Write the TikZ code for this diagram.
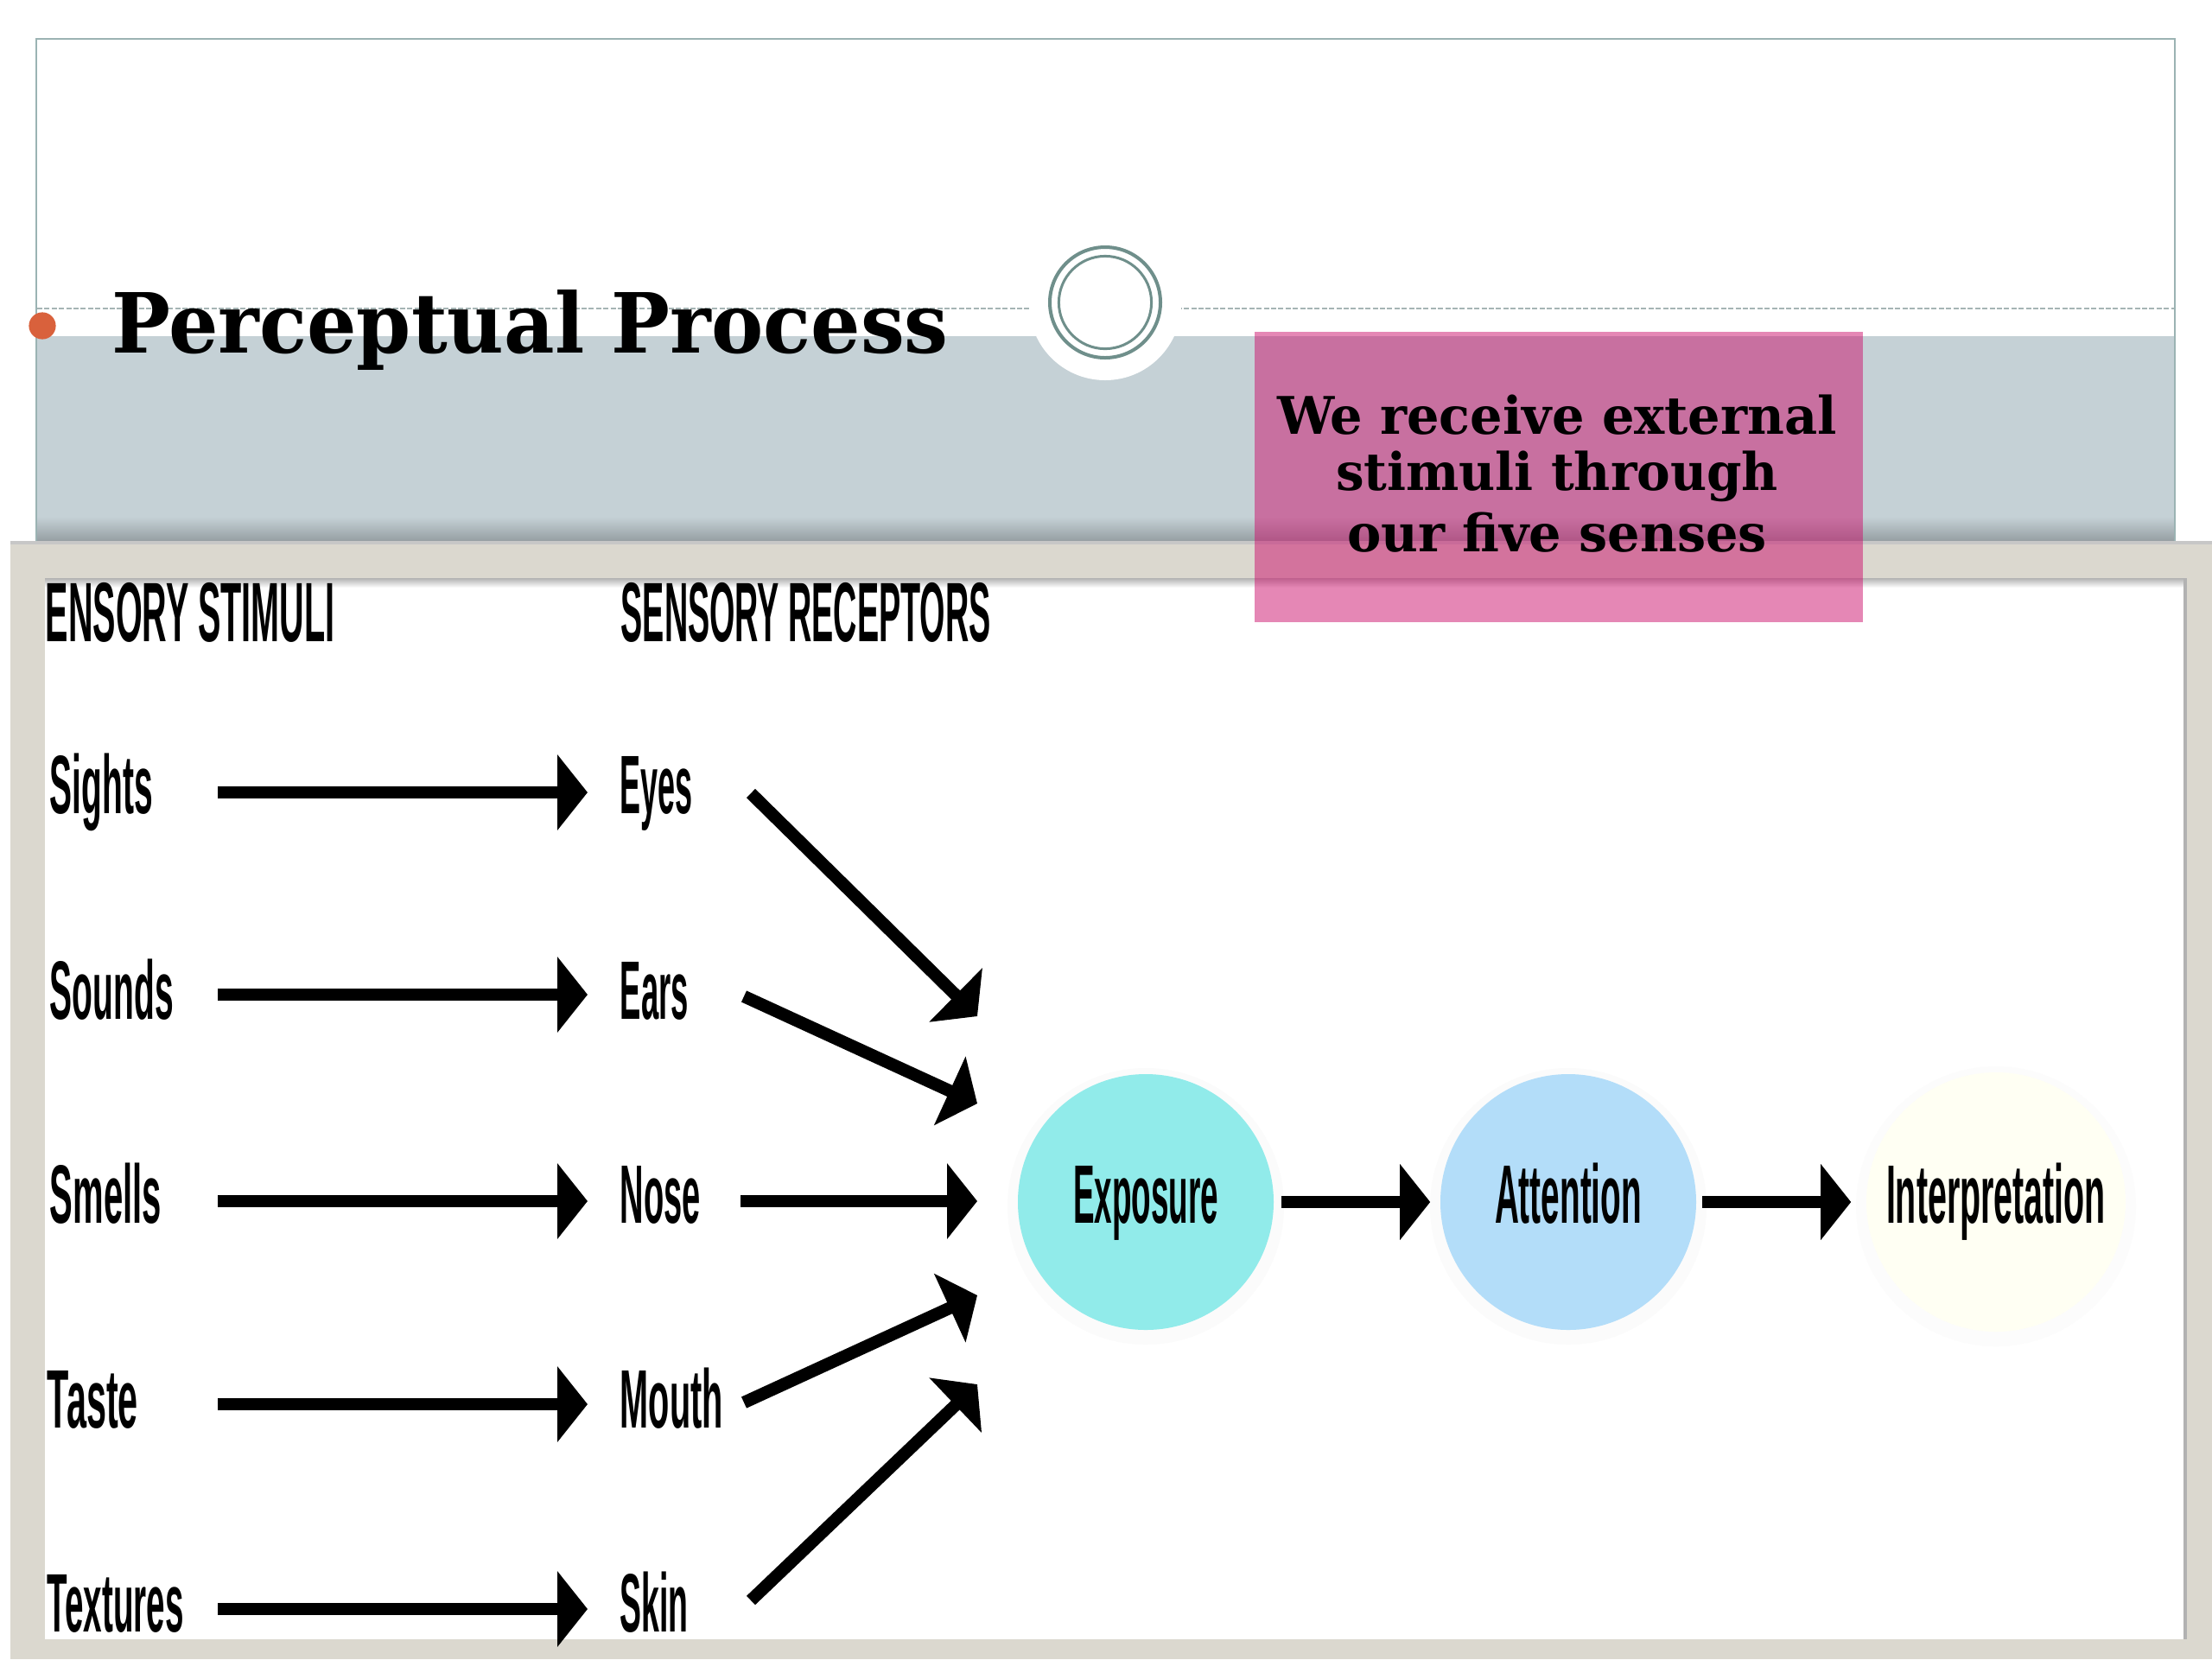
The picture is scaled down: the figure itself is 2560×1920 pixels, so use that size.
\documentclass[tikz,border=0pt]{standalone}
\usepackage{fontspec}
\usepackage{graphicx}
\setmainfont{DejaVu Serif}
\newfontfamily\condfont{Liberation Sans}
\usetikzlibrary{arrows.meta}

\definecolor{bandgray}{RGB}{197,209,214}
\definecolor{framegray}{RGB}{155,179,179}
\definecolor{dashgray}{RGB}{165,180,180}
\definecolor{ringteal}{RGB}{111,143,139}
\definecolor{dotorange}{RGB}{217,97,60}
\definecolor{beige}{RGB}{219,216,207}
\definecolor{pinkfill}{RGB}{204,16,108}
\definecolor{expcyan}{RGB}{145,235,234}
\definecolor{attblue}{RGB}{179,221,249}
\definecolor{intivory}{RGB}{255,255,243}

\newcommand{\fitw}[2]{\resizebox{#1}{\height}{#2}}

\tikzset{
  fat/.style={line width=3.6pt, -{Triangle[length=8.75pt,width=21.5pt]}},
  lbl/.style={inner sep=0pt, anchor=base west, font=\condfont\bfseries\fontsize{24}{28}\selectfont},
  hdr/.style={inner sep=0pt, anchor=base west, font=\condfont\bfseries\fontsize{24.4}{28}\selectfont},
  stage/.style={circle, inner sep=0pt, minimum size=74pt, text height=17.2pt, text depth=5pt,
                font=\condfont\bfseries\fontsize{24}{28}\selectfont},
  pinktext/.style={inner sep=0pt, anchor=base, font=\bfseries\fontsize{15}{18}\selectfont},
}

\begin{document}
\begin{tikzpicture}[x=0.25pt,y=-0.25pt]
\useasboundingbox (0,0) rectangle (2560,1920);
\fill[white] (0,0) rectangle (2560,1920);

% ---- slide header area
\fill[bandgray] (42,389) rectangle (2517,627);
\shade[top color=bandgray, bottom color=bandgray!75!black] (42,598) rectangle (2517,627);
\draw[framegray, line width=0.5pt] (42,627) -- (42,45) -- (2517,45) -- (2517,627);
\draw[dashgray, line width=0.5pt, dash pattern=on 1.5pt off 0.6pt] (43,357) -- (2516,357);
\node[circle, fill=white, minimum size=44pt, inner sep=0pt] (halo) at (1279,352) {};
\node[circle, draw=ringteal, line width=1pt, minimum size=32pt, inner sep=0pt] (ring) at (1279,350) {};
\draw[ringteal, line width=0.75pt] (ring.center) circle[radius=13.4pt];
\fill[dotorange] (49,377) circle[radius=3.9pt];
\node[anchor=base west, inner sep=0pt, font=\bfseries\fontsize{24}{28}\selectfont] (title)
  at (129,408) {\fitw{242pt}{Perceptual Process}};

% ---- picture panel
\fill[beige] (12,627) rectangle (2560,1920);
\draw[black!22, line width=1pt] (12,628) -- (2560,628);
\fill[white] (52,669) rectangle (2528,1897);
\shade[top color=black!30, bottom color=white] (52,669) rectangle (2528,680);
\draw[black!30, line width=1pt] (2529,669) -- (2529,1897);

% headers
\node[hdr] (hstim) at (52,742) {\fitw{83.7pt}{ENSORY STIMULI}};
\node[hdr] (hrec) at (718,742) {\fitw{107pt}{SENSORY RECEPTORS}};

% stimuli
\node[lbl] (sights)   at (57,941)  {\fitw{29.75pt}{Sights}};
\node[lbl] (sounds)   at (57,1179) {\fitw{35.75pt}{Sounds}};
\node[lbl] (smells)   at (57,1415) {\fitw{32.25pt}{Smells}};
\node[lbl] (taste)    at (54,1652) {\fitw{26.25pt}{Taste}};
\node[lbl] (textures) at (54,1888) {\fitw{39.5pt}{Textures}};

% receptors
\node[lbl] (eyes)  at (717,941)  {\fitw{21pt}{Eyes}};
\node[lbl] (ears)  at (717,1179) {\fitw{19.75pt}{Ears}};
\node[lbl] (nose)  at (717,1415) {\fitw{23.25pt}{Nose}};
\node[lbl] (mouth) at (717,1652) {\fitw{29.75pt}{Mouth}};
\node[lbl] (skin)  at (717,1888) {\fitw{19.75pt}{Skin}};

% arrow ends
\coordinate (s1) at (252,917);  \coordinate (r1) at (680,917);
\coordinate (s2) at (252,1151); \coordinate (r2) at (680,1151);
\coordinate (s3) at (252,1390); \coordinate (r3) at (680,1390);
\coordinate (s4) at (252,1625); \coordinate (r4) at (680,1625);
\coordinate (s5) at (252,1862); \coordinate (r5) at (680,1862);

\coordinate (d1) at (869,918);  \coordinate (t1) at (1131,1176);
\coordinate (d2) at (861,1153); \coordinate (t2) at (1131,1277);
\coordinate (d3) at (857,1390); \coordinate (t3) at (1131,1390);
\coordinate (d4) at (861,1623); \coordinate (t4) at (1131,1499);
\coordinate (d5) at (869,1852); \coordinate (t5) at (1131,1602);

\foreach \i in {1,...,5}{
  \draw[fat] (s\i) -- (r\i);
  \draw[fat] (d\i) -- (t\i);
}

% stages
\fill[black!1.5] (1326,1396) circle[radius=40pt];
\fill[black!1.5] (1815,1396) circle[radius=40pt];
\fill[black!1.2] (2310,1396) circle[radius=40.5pt];
\node[stage, fill=expcyan] (expo) at (1326,1391) {\fitw{42pt}{Exposure}};
\node[stage, fill=attblue] (att) at (1815,1391) {\fitw{42.5pt}{Attention}};
\node[stage, fill=intivory, minimum size=75pt] (interp) at (2310,1391) {\fitw{63.5pt}{Interpretation}};

\draw[fat, shorten <=2pt, shorten >=2.75pt] (expo) -- (att);
\draw[fat, shorten <=1.5pt, shorten >=4.25pt] (att) -- (interp);

% pink overlay box
\node[fill=pinkfill, fill opacity=0.5, minimum width=176pt, minimum height=84pt, inner sep=0pt,
      anchor=north west] (pinkbox) at (1451,383) {};
\node[pinktext] (p1) at (1802,502) {\fitw{162pt}{We receive external}};
\node[pinktext] (p2) at (1802,567) {\fitw{128pt}{stimuli through}};
\node[pinktext] (p3) at (1802,638) {\fitw{121.5pt}{our five senses}};
\end{tikzpicture}
\end{document}
